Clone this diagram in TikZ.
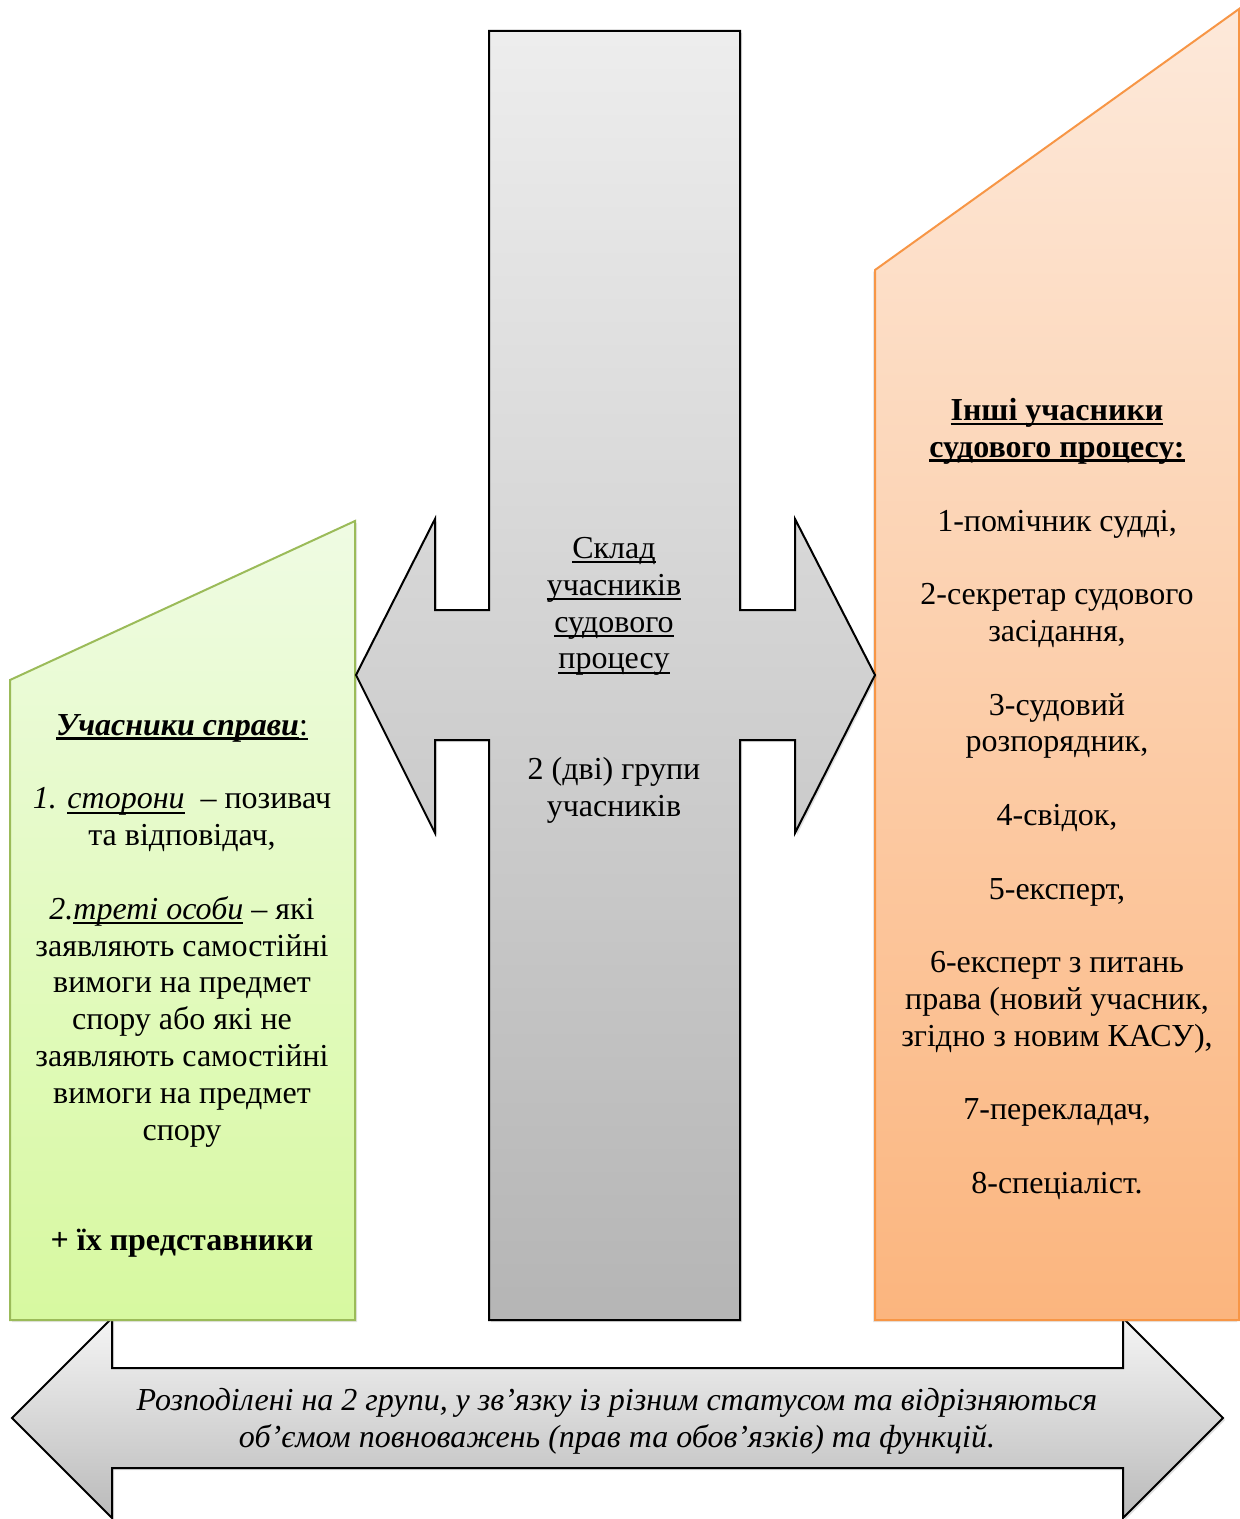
\documentclass[tikz,border=0pt]{standalone}
\usepackage{fontspec}
\setmainfont{Liberation Serif}
\usepackage{tikz}
\usetikzlibrary{positioning,shadows}
\newcommand{\undl}[2][0.9pt]{\setbox0\hbox{#2}\rlap{\rule[-2.3pt]{\wd0}{#1}}\box0}
\definecolor{greenline}{HTML}{9BBB59}
\definecolor{greentop}{HTML}{EFFBE3}
\definecolor{greenbot}{HTML}{D7F9A0}
\definecolor{orangeline}{HTML}{F79646}
\definecolor{orangetop}{HTML}{FDE9DA}
\definecolor{orangebot}{HTML}{FBB57E}
\tikzset{%
	crossarrow/.style = {draw=black, line width=1pt, top color=black!7, bottom color=black!29, drop shadow={shadow xshift=1pt, shadow yshift=-1pt, opacity=0.25}},
	bigarrow/.style   = {draw=black, line width=1pt, top color=black!4, bottom color=black!27, drop shadow={shadow xshift=1pt, shadow yshift=-1pt, opacity=0.25}},
	partybox/.style   = {draw=greenline, line width=1pt, top color=greentop, bottom color=greenbot, drop shadow={shadow xshift=1pt, shadow yshift=-1pt, opacity=0.2}},
	otherbox/.style   = {draw=orangeline, line width=1pt, top color=orangetop, bottom color=orangebot, drop shadow={shadow xshift=-1pt, shadow yshift=-1pt, opacity=0.2}},
	boxtext/.style    = {align=center, inner sep=0pt, font=\fontsize{16}{18.4}\selectfont},
}
\begin{document}
\begin{tikzpicture}[x=0.5pt,y=-0.5pt]
	\useasboundingbox (0,0) rectangle (1240,1519);
	% bottom double arrow
	\draw[bigarrow] (12,1418) -- (112,1318) -- (112,1368) -- (1123,1368) -- (1123,1318) -- (1223,1418) -- (1123,1518) -- (1123,1468) -- (112,1468) -- (112,1518) -- cycle;
	% side boxes
	\draw[partybox] (10,680) -- (355,521) -- (355,1320) -- (10,1320) -- cycle;
	\draw[otherbox] (875,270) -- (1239,9) -- (1239,1320) -- (875,1320) -- cycle;
	% central cross
	\draw[crossarrow] (489,31) -- (740,31) -- (740,610) -- (795,610) -- (795,519) -- (875,675) -- (795,833) -- (795,740) -- (740,740) -- (740,1320) -- (489,1320) -- (489,740) -- (435,740) -- (435,833) -- (356,675) -- (435,519) -- (435,610) -- (489,610) -- cycle;

	\node[boxtext,anchor=north] (compos) at (614,537) {\undl{Склад}\\ \undl{учасників}\\ \undl{судового}\\ \undl{процесу}\\[36.8pt] 2 (дві) групи\\ учасників};
	\node[boxtext,anchor=north] (parties) at (182,714) {\undl[1.3pt]{\textbf{\textit{Учасники справи}}}\undl{:}\\[18.4pt]
		\textit{1. \undl{сторони}}\ \ – позивач\\ та відповідач,\\[18.4pt]
		\textit{2.\undl{треті особи}} – які\\ заявляють самостійні\\ вимоги на предмет\\ спору або які не\\ заявляють самостійні\\ вимоги на предмет\\ спору\\[36.8pt]
		\textbf{+ їх представники}};
	\node[boxtext,anchor=north] (others) at (1057,398) {\undl[1.3pt]{\textbf{Інші учасники}}\\ \undl[1.3pt]{\textbf{судового процесу:}}\\[18.4pt]
		1-помічник судді,\\[18.4pt]
		2-секретар судового\\ засідання,\\[18.4pt]
		3-судовий\\ розпорядник,\\[18.4pt]
		4-свідок,\\[18.4pt]
		5-експерт,\\[18.4pt]
		6-експерт з питань\\ права (новий учасник,\\ згідно з новим КАСУ),\\[18.4pt]
		7-перекладач,\\[18.4pt]
		8-спеціаліст.};
	\node[boxtext,font=\fontsize{16}{18.4}\selectfont\itshape] (groups) at (617,1421) {Розподілені на 2 групи, у зв’язку із різним статусом та відрізняються\\ об’ємом повноважень (прав та обов’язків) та функцій.};
\end{tikzpicture}
\end{document}
